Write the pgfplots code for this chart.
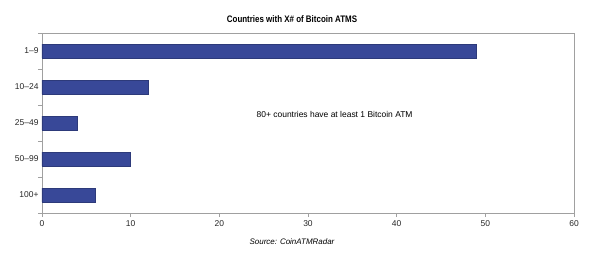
\documentclass[border=0pt]{standalone}
\usepackage{pgfplots}
\pgfplotsset{compat=1.18}
\usepackage{fontspec}
\setmainfont{Liberation Sans}
\definecolor{barblue}{RGB}{56,72,152}
\definecolor{axgray}{RGB}{160,160,160}
\begin{document}
\begin{tikzpicture}
\path[use as bounding box] (-42bp,-44bp) rectangle (558bp,213bp);
\begin{axis}[
  at={(0,0)}, anchor=south west,
  scale only axis,
  width=532bp, height=180bp,
  xmin=0, xmax=60, ymin=-0.5, ymax=4.5,
  xtick={0,10,...,60},
  ytick={-0.5,0.5,1.5,2.5,3.5,4.5},
  yticklabels={},
  extra y ticks={0,1,2,3,4},
  extra y tick labels={100+,50--99,25--49,10--24,1--9},
  extra y tick style={major tick length=0pt, grid=none},
  axis line style={axgray},
  every tick/.style={axgray},
  major tick length=4bp,
  tick align=outside,
  xtick pos=bottom,
  ytick pos=left,
  tick label style={font=\fontsize{8.5}{9}\selectfont, text=black!85},
  /pgf/number format/assume math mode=true,
  xbar, bar width=14bp,
  clip=false,
]
\addplot[fill=barblue, draw=barblue!80!black] coordinates {(6,0) (10,1) (4,2) (12,3) (49,4)};
\node[font=\fontsize{8.5}{9}\selectfont] at (axis cs:33,2.25) {80+ countries have at least 1 Bitcoin ATM};
\end{axis}
\node[font=\fontsize{9.5}{10}\selectfont\bfseries] at (250bp,194bp) {\scalebox{0.84}[1]{Countries with X\# of Bitcoin ATMS}};
\node[font=\fontsize{8}{9}\selectfont\itshape] at (250bp,-29bp) {Source: CoinATMRadar};
\end{tikzpicture}
\end{document}
